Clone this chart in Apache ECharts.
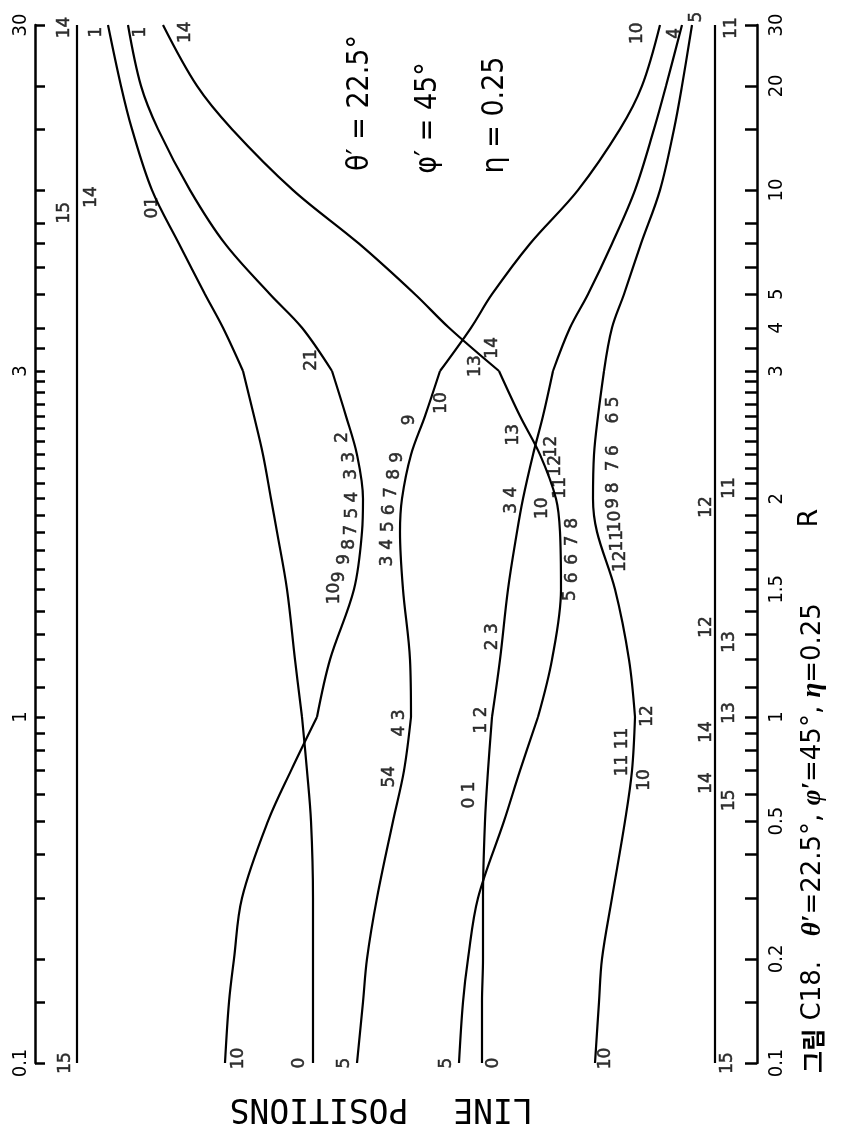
<!DOCTYPE html>
<html><head><meta charset="utf-8">
<script src="https://cdn.jsdelivr.net/npm/echarts@6/dist/echarts.min.js"></script>
<style>html,body{margin:0;padding:0;background:#fff}#c{width:842px;height:1127px}</style>
</head><body><div id="c"></div>
<script>
// ---- DATA ----
// R values at which every curve was read
const rGrid = [0.1,0.15,0.2,0.3,0.5,0.7,1,1.2,1.5,1.8,2,2.3,2.6,3,4,5,7,10,15,20,30];
// line positions (arbitrary horizontal units) of each curve at rGrid
const curveA = [313,313,313,313,311,307,302,295,287,277,271,263,254,243,223,205,179,152,132,121,108]; // 0 -> 1
const curveB = [225,229,234,242,268,291,317,330,354,362,363,357,346,332,302,270,225,190,158,141,128]; // 10 -> 1
const curveC = [459,463,468,478,504,520,538,552,561,560,556,540,520,499,449,415,359,293,232,197,163]; // 5 -> 14
const curveD = [482,482,483,483,485,488,492,500,508,517,523,533,543,553,570,588,612,635,654,666,682]; // 0 -> 4
const curveE = [357,363,367,377,393,404,411,410,403,400,402,411,425,440,471,492,530,578,620,642,660]; // 5 -> 10
const curveF = [595,599,602,612,625,632,635,629,615,597,593,594,598,604,612,624,641,660,674,682,692]; // 10 -> 5
const straightLines = [77, 715]; // 15 -> 14 and 15 -> 11
// axis ticks and labels (R)
const tickR = [0.1,0.15,0.2,0.3,0.4,0.5,0.6,0.7,0.8,0.9,1,1.1,1.2,1.3,1.4,1.5,1.6,1.7,1.8,1.9,2,2.1,2.2,2.3,2.4,2.5,2.6,2.7,2.8,2.9,3,3.5,4,5,6,7,8,10,15,20,30];
const leftLabelR = [0.1,1,3,30];
const rightLabelR = [0.1,0.2,0.5,1,1.5,2,3,4,5,10,20,30];
// curve annotations: [position, R, text]
const curveLabels = [
 [66,0.1,'15'],[239,0.103,'10'],[300,0.1,'0'],[345,0.1,'5'],[447,0.1,'5'],[494,0.1,'0'],[606,0.103,'10'],[728,0.1,'15'],
 [65,29.5,'14'],[97,28.6,'1'],[141,28.6,'1'],[186,28.6,'14'],[638,28.4,'10'],[675,28.4,'4'],[697,31.6,'5'],[732,29.4,'11'],
 [65,8.6,'15'],[92,9.55,'14'],[153,8.9,'01'],[312,3.23,'21'],
 [335,1.48,'10'],[340,1.56,'9'],[345,1.65,'9'],[350,1.73,'8'],[352,1.81,'7'],[353,1.91,'5'],[353,2.01,'4'],[352,2.16,'3'],[350,2.28,'3'],[343,2.43,'2'],
 [388,1.64,'3'],[388,1.73,'4'],[389,1.83,'5'],[390,1.93,'6'],[392,2.04,'7'],[395,2.16,'8'],[398,2.28,'9'],[410,2.57,'9'],[442,2.71,'10'],[400,0.961,'4 3'],[390,0.672,'54'],
 [493,3.5,'14'],[476,3.1,'13'],[514,2.45,'13'],[552,2.36,'12'],[556,2.22,'12'],[561,2.07,'11'],[543,1.94,'10'],
 [573,1.85,'8'],[573,1.75,'7'],[573,1.65,'6'],[573,1.555,'6'],[571,1.47,'5'],
 [512,1.99,'3 4'],[493,1.29,'2 3'],[482,0.98,'1 2'],[470,0.595,'0 1'],
 [614,2.65,'6 5'],[614,2.33,'6'],[614,2.22,'7'],[614,2.07,'8'],[614,1.97,'9'],[616,1.86,'10'],[618,1.75,'11'],[621,1.64,'12'],
 [623,0.792,'11 11'],[648,1.003,'12'],[645,0.658,'10'],
 [707,1.948,'12'],[730,2.069,'11'],[707,1.331,'12'],[730,1.269,'13'],[730,1.013,'13'],[707,0.905,'14'],[707,0.645,'14'],[730,0.575,'15']
];
const captionParts = ['그림', 'C18.', "θ′", '=22.5°,', 'φ′', '=45°,', 'η', '=0.25'];

// ---- SCALE: piecewise logarithmic R axis (0.1-1, 1-3, 3-30 each one unit) ----
function u(R){
  if (R <= 1) return Math.log10(R);
  if (R <= 3) return Math.log10(R) / Math.log10(3);
  return 1 + Math.log10(R / 3);
}
function labelFor(list){
  return v => { for (const r of list) if (Math.abs(u(r) - v) < 1e-6) return String(r); return ''; };
}

const INK = '#000';
const FONT = "'DejaVu Sans',sans-serif";
const CFONT = "'DejaVu Sans Condensed','DejaVu Sans',sans-serif";
const series = [];
const segs = [[0.1,1],[1,3],[3,30]];
[curveA,curveB,curveC,curveD,curveE,curveF].forEach(c => {
  segs.forEach(([a,b]) => {
    const data = [];
    rGrid.forEach((r,i) => { if (r >= a - 1e-9 && r <= b + 1e-9) data.push([c[i], u(r)]); });
    series.push({type:'line', data, smooth:0.35, symbol:'none', silent:true,
      lineStyle:{color:INK, width:2.2}});
  });
});
straightLines.forEach(x => series.push({type:'line', data:[[x,u(0.1)],[x,u(30)]], symbol:'none', silent:true,
  lineStyle:{color:INK, width:2.2}}));
series.push({type:'scatter', symbolSize:0, silent:true, clip:false,
  itemStyle:{color:INK},
  data: curveLabels.map(l => ({value:[l[0], u(l[1])], name:l[2]})),
  label:{show:true, position:[0,0], align:'center', verticalAlign:'middle', formatter:'{b}', rotate:90,
    color:INK, fontSize:17, fontFamily:FONT, textBorderColor:INK, textBorderWidth:0.5}});

const yCommon = {type:'value', min:-1, max:2, splitLine:{show:false},
  axisLine:{show:true, lineStyle:{color:INK, width:2.5}},
  axisTick:{show:true, inside:true, customValues: tickR.map(u), lineStyle:{color:INK, width:2.5}}};

const chart = echarts.init(document.getElementById('c'), null, {renderer:'canvas'});
chart.setOption({
  animation:false,
  backgroundColor:'#fff',
  grid:{left:35, right:85, top:25, bottom:64},
  xAxis:{type:'value', min:35, max:757, show:false},
  yAxis:[
    Object.assign({}, yCommon, {position:'left',
      axisTick:Object.assign({}, yCommon.axisTick, {length:10}),
      axisLabel:{customValues:leftLabelR.map(u), formatter:labelFor(leftLabelR), rotate:90, margin:4, color:INK, fontSize:20, fontFamily:CFONT}}),
    Object.assign({}, yCommon, {position:'right',
      axisTick:Object.assign({}, yCommon.axisTick, {length:12}),
      axisLabel:{customValues:rightLabelR.map(u), formatter:labelFor(rightLabelR), rotate:90, margin:10, color:INK, fontSize:20, fontFamily:CFONT}})
  ],
  series,
  graphic:[
    {type:'text', x:360, y:103, rotation:Math.PI/2, style:{text:'θ′ = 22.5°', font:"30px "+CFONT, fill:INK, align:'center', verticalAlign:'middle'}},
    {type:'text', x:428, y:118, rotation:Math.PI/2, style:{text:'φ′ = 45°', font:"30px "+CFONT, fill:INK, align:'center', verticalAlign:'middle'}},
    {type:'text', x:495, y:115, rotation:Math.PI/2, style:{text:'η = 0.25', font:"30px "+CFONT, fill:INK, align:'center', verticalAlign:'middle'}},
    {type:'text', x:810, y:518, rotation:Math.PI/2, style:{text:'R', font:"27px "+FONT, fill:INK, align:'center', verticalAlign:'middle'}},
    {type:'text', x:493, y:1108, rotation:Math.PI, style:{text:'LINE', font:"33px 'DejaVu Sans Mono',monospace", fill:INK, align:'center', verticalAlign:'middle'}},
    {type:'text', x:319, y:1108, rotation:Math.PI, style:{text:'POSITIONS', font:"33px 'DejaVu Sans Mono',monospace", fill:INK, align:'center', verticalAlign:'middle'}},
    {type:'text', x:813, y:838, rotation:Math.PI/2, style:{
      text:'{k|'+captionParts[0]+'}{n| }{n|'+captionParts[1]+'}{n|   }{g|'+captionParts[2]+'}{n|'+captionParts[3]+'}{n| }{g|'+captionParts[4]+'}{n|'+captionParts[5]+'}{n| }{g|'+captionParts[6]+'}{n|'+captionParts[7]+'}',
      align:'center', verticalAlign:'middle', fill:INK,
      rich:{
        k:{fontFamily:"'Noto Sans CJK KR',sans-serif", fontSize:24, fontWeight:'bold', fill:INK},
        n:{fontFamily:"'DejaVu Sans',sans-serif", fontSize:26, fill:INK},
        g:{fontFamily:"'Liberation Serif',serif", fontSize:27, fontStyle:'italic', fontWeight:'bold', fill:INK}
      }}}
  ]
});
</script></body></html>
